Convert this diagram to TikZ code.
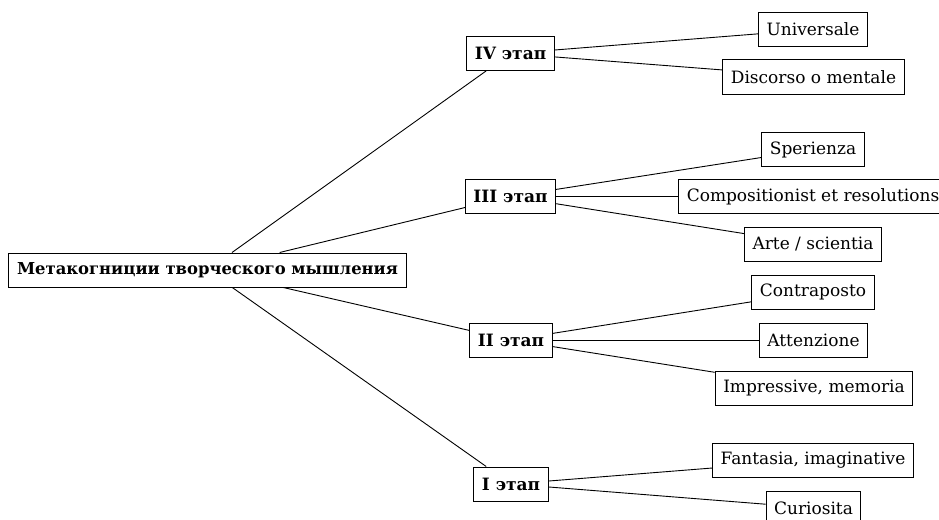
\documentclass[tikz,border=0pt]{standalone}
\usepackage{fontspec}
\setmainfont{DejaVu Serif}
\begin{document}
\begin{tikzpicture}[x=1pt,y=-1pt,
  box/.style={draw,line width=1pt,inner xsep=8pt,inner ysep=0pt,minimum height=34pt,font=\fontsize{17}{20}\selectfont},
  stage/.style={box,font=\fontsize{17}{20}\selectfont\bfseries},
  rootbox/.style={box,inner xsep=8.5pt,font=\fontsize{16.4}{20}\selectfont\bfseries},
  link/.style={line width=0.9pt}]
\useasboundingbox (0,0) rectangle (939,519);
\clip (0,0) rectangle (939,519);
\node[rootbox] (root) at (207.5,270) {Метакогниции творческого мышления};
\node[stage] (s4) at (510.5,53.5) {IV этап};
\node[stage] (s3) at (510.5,196.5) {III этап};
\node[stage] (s2) at (511,340) {II этап};
\node[stage] (s1) at (511,484) {I этап};
\node[box] (c41) at (813,29.5) {Universale};
\node[box] (c42) at (813.5,77) {Discorso o mentale};
\node[box] (c31) at (813,149.5) {Sperienza};
\node[box] (c32) at (813,196.5) {Compositionist et resolutions};
\node[box] (c33) at (813,244.5) {Arte / scientia};
\node[box] (c21) at (813,292) {Contraposto};
\node[box] (c22) at (813.5,340) {Attenzione};
\node[box] (c23) at (814,388) {Impressive, memoria};
\node[box] (c11) at (813,460) {Fantasia, imaginative};
\node[box] (c12) at (813.5,508) {Curiosita};
\foreach \s in {s1,s2,s3,s4} \draw[link] (root) -- (\s);
\foreach \c in {c41,c42} \draw[link] (s4) -- (\c);
\foreach \c in {c31,c32,c33} \draw[link] (s3) -- (\c);
\foreach \c in {c21,c22,c23} \draw[link] (s2) -- (\c);
\foreach \c in {c11,c12} \draw[link] (s1) -- (\c);
\end{tikzpicture}
\end{document}
